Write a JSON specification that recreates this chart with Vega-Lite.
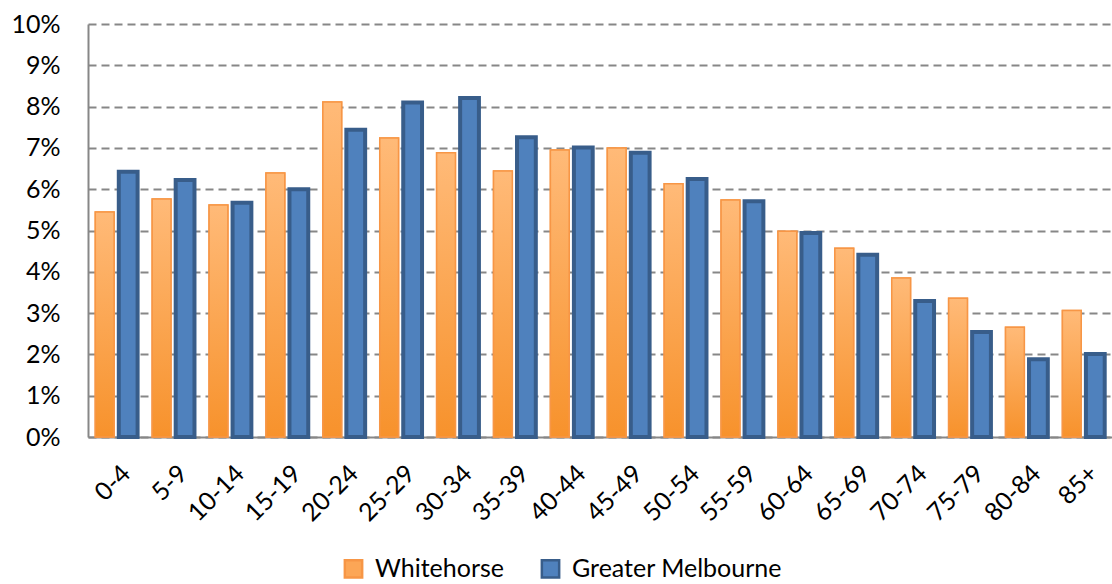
{
  "$schema": "https://vega.github.io/schema/vega-lite/v6.json",
  "width": 1024,
  "height": 413,
  "autosize": {"type": "none"},
  "padding": {"left": 88, "top": 24, "right": 0, "bottom": 147},
  "background": "white",
  "config": {
    "font": "Lato",
    "view": {"stroke": null},
    "axis": {"labelFont": "Lato", "labelFontSize": 25, "labelColor": "#000000"}
  },
  "data": {
    "values": [
      {"age": "0-4", "series": "Whitehorse", "share": 5.45},
      {"age": "0-4", "series": "Greater Melbourne", "share": 6.42},
      {"age": "5-9", "series": "Whitehorse", "share": 5.76},
      {"age": "5-9", "series": "Greater Melbourne", "share": 6.22},
      {"age": "10-14", "series": "Whitehorse", "share": 5.62},
      {"age": "10-14", "series": "Greater Melbourne", "share": 5.67},
      {"age": "15-19", "series": "Whitehorse", "share": 6.39},
      {"age": "15-19", "series": "Greater Melbourne", "share": 6.0},
      {"age": "20-24", "series": "Whitehorse", "share": 8.11},
      {"age": "20-24", "series": "Greater Melbourne", "share": 7.44},
      {"age": "25-29", "series": "Whitehorse", "share": 7.24},
      {"age": "25-29", "series": "Greater Melbourne", "share": 8.1},
      {"age": "30-34", "series": "Whitehorse", "share": 6.88},
      {"age": "30-34", "series": "Greater Melbourne", "share": 8.21},
      {"age": "35-39", "series": "Whitehorse", "share": 6.44},
      {"age": "35-39", "series": "Greater Melbourne", "share": 7.26},
      {"age": "40-44", "series": "Whitehorse", "share": 6.95},
      {"age": "40-44", "series": "Greater Melbourne", "share": 7.01},
      {"age": "45-49", "series": "Whitehorse", "share": 7.0},
      {"age": "45-49", "series": "Greater Melbourne", "share": 6.88},
      {"age": "50-54", "series": "Whitehorse", "share": 6.13},
      {"age": "50-54", "series": "Greater Melbourne", "share": 6.25},
      {"age": "55-59", "series": "Whitehorse", "share": 5.74},
      {"age": "55-59", "series": "Greater Melbourne", "share": 5.71},
      {"age": "60-64", "series": "Whitehorse", "share": 4.98},
      {"age": "60-64", "series": "Greater Melbourne", "share": 4.94},
      {"age": "65-69", "series": "Whitehorse", "share": 4.57},
      {"age": "65-69", "series": "Greater Melbourne", "share": 4.41},
      {"age": "70-74", "series": "Whitehorse", "share": 3.85},
      {"age": "70-74", "series": "Greater Melbourne", "share": 3.29},
      {"age": "75-79", "series": "Whitehorse", "share": 3.36},
      {"age": "75-79", "series": "Greater Melbourne", "share": 2.54},
      {"age": "80-84", "series": "Whitehorse", "share": 2.66},
      {"age": "80-84", "series": "Greater Melbourne", "share": 1.88},
      {"age": "85+", "series": "Whitehorse", "share": 3.06},
      {"age": "85+", "series": "Greater Melbourne", "share": 2.01}
    ]
  },
  "encoding": {
    "x": {
      "field": "age",
      "type": "ordinal",
      "sort": null,
      "scale": {"paddingInner": 0.174, "paddingOuter": 0.087},
      "axis": {
        "title": null,
        "labelAngle": -45,
        "labelAlign": "right",
        "labelBaseline": "middle",
        "labelPadding": 32,
        "labelOffset": 10,
        "ticks": false,
        "domainColor": "#878787",
        "domainWidth": 2
      }
    },
    "xOffset": {
      "field": "series",
      "type": "nominal",
      "scale": {"domain": ["Whitehorse", "Greater Melbourne"], "paddingInner": 0.2, "paddingOuter": 0.1}
    },
    "y": {
      "field": "share",
      "type": "quantitative",
      "scale": {"domain": [0, 10], "nice": false},
      "axis": {
        "title": null,
        "values": [0, 1, 2, 3, 4, 5, 6, 7, 8, 9, 10],
        "labelExpr": "datum.value + '%'",
        "labelPadding": 28,
        "ticks": false,
        "domainColor": "#878787",
        "domainWidth": 2,
        "grid": true,
        "gridColor": "#878787",
        "gridWidth": 2,
        "gridDash": [8, 5]
      }
    }
  },
  "layer": [
    {
      "mark": {"type": "bar", "cornerRadius": 0},
      "encoding": {
        "fill": {
          "field": "series",
          "type": "nominal",
          "scale": {"domain": ["Whitehorse", "Greater Melbourne"], "range": ["#FCA656", "#4F81BD"]},
          "legend": {
            "title": null,
            "orient": "none",
            "direction": "horizontal",
            "legendX": 253,
            "legendY": 532,
            "symbolType": "square",
            "symbolSize": 300,
            "symbolStrokeWidth": 2.5,
            "labelFontSize": 25,
            "labelFont": "Lato",
            "labelColor": "#000000",
            "labelLimit": 400,
            "columnPadding": 32,
            "labelOffset": 9
          }
        },
        "stroke": {
          "field": "series",
          "type": "nominal",
          "scale": {"domain": ["Whitehorse", "Greater Melbourne"], "range": ["#F79646", "#385D8A"]}
        },
        "strokeWidth": {
          "condition": {"test": "datum.series === 'Greater Melbourne'", "value": 4},
          "value": 1.5
        }
      }
    },
    {
      "transform": [{"filter": "datum.series === 'Whitehorse'"}],
      "mark": {
        "type": "bar",
        "cornerRadius": 0,
        "stroke": "#F79646",
        "strokeWidth": 1.5,
        "fill": {
          "gradient": "linear",
          "x1": 0, "y1": 0, "x2": 0, "y2": 1,
          "stops": [{"offset": 0, "color": "#FFBA78"}, {"offset": 1, "color": "#F7922C"}]
        }
      }
    }
  ]
}
